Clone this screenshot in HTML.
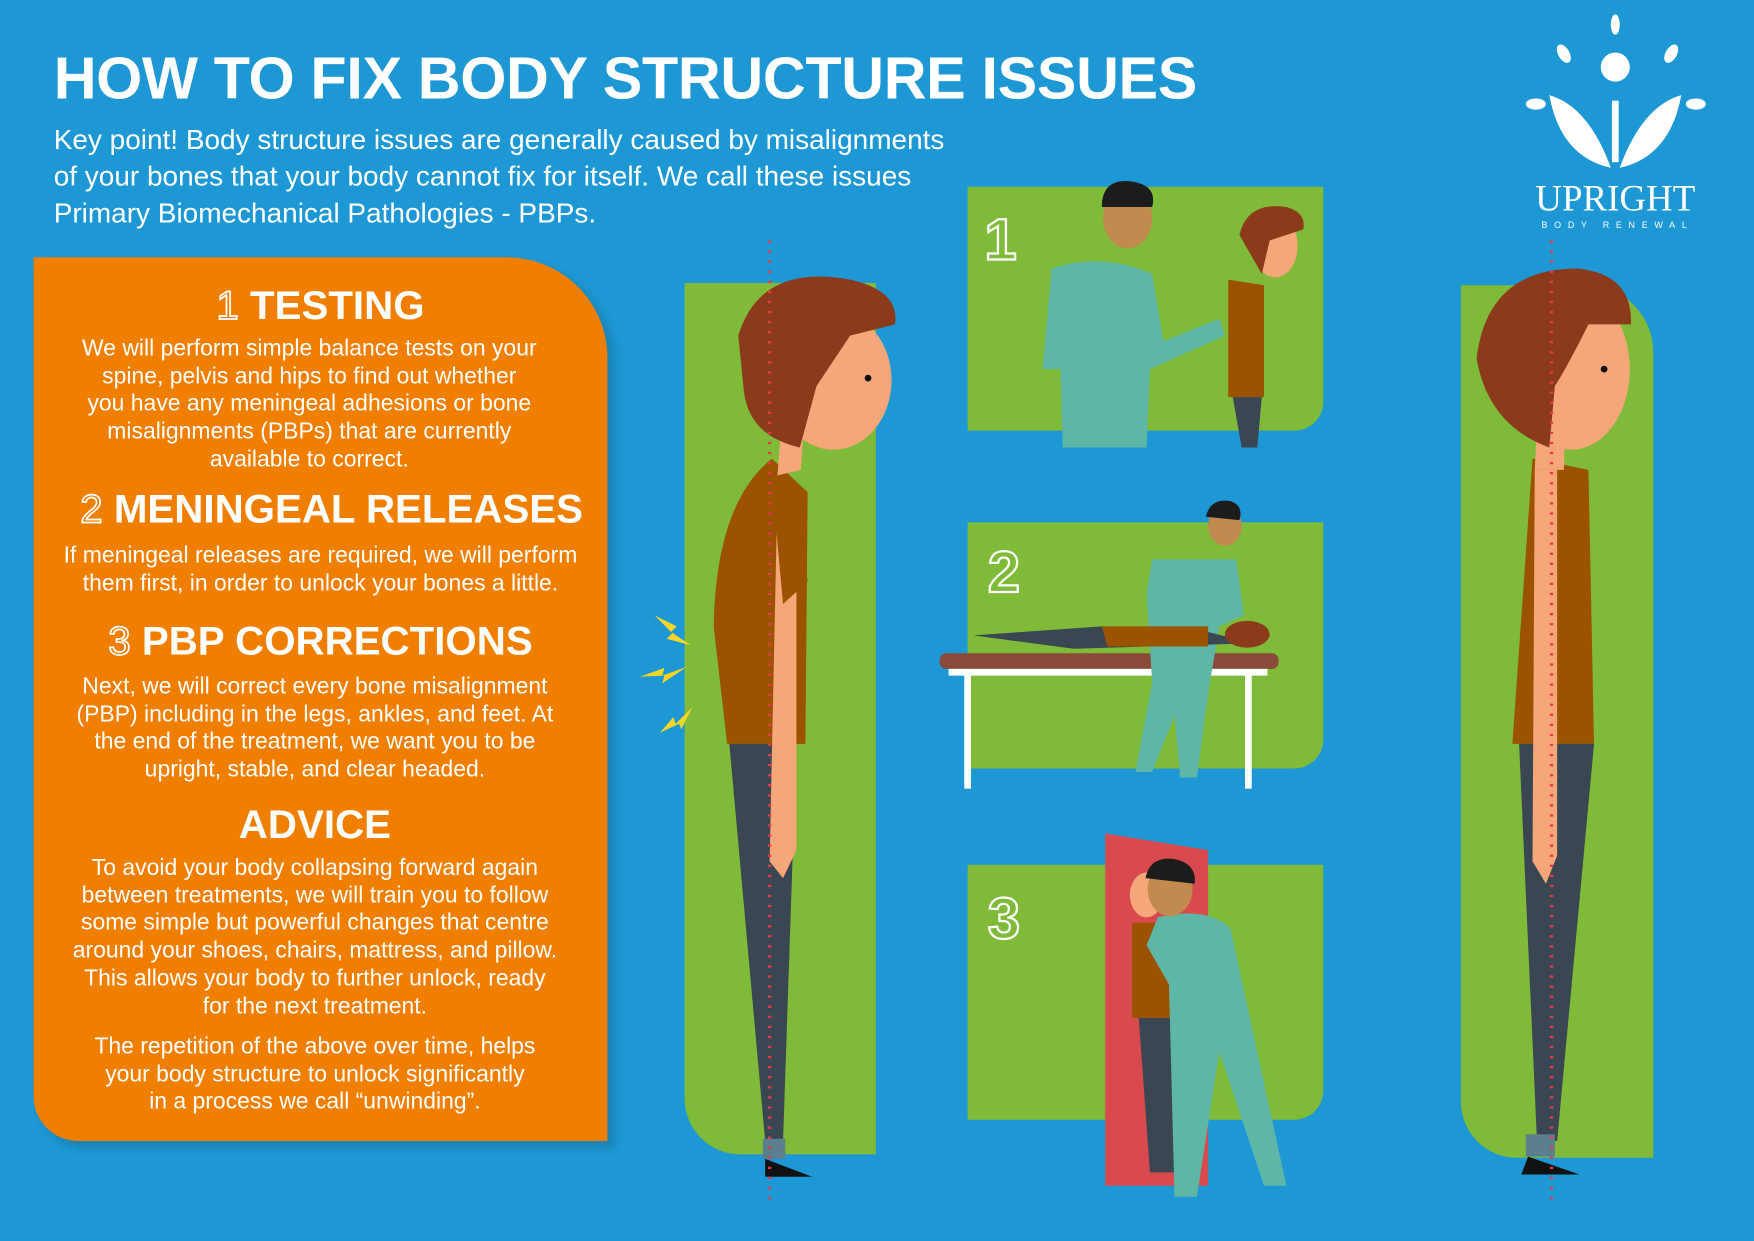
<!DOCTYPE html>
<html><head><meta charset="utf-8"><style>
html,body{margin:0;padding:0;width:1754px;height:1240px;overflow:hidden;background:#1d98d4}
#w{position:absolute;left:0;top:0;width:1568px;height:1109px;transform:scale(1.11862);transform-origin:0 0;background:#1d98d4;font-family:"Liberation Sans",sans-serif;color:#fff}
.a{position:absolute}
h1{position:absolute;left:48px;top:40px;margin:0;font-size:53px;font-weight:bold;letter-spacing:-0.3px;white-space:nowrap}
.kp{left:48px;top:109px;font-size:25px;line-height:33px;width:900px;white-space:nowrap}
.or{left:30px;top:230px;width:513px;height:790px;background:#f07f00;border-radius:0 90px 0 40px;box-shadow:6px 6px 8px rgba(0,0,0,.15)}
.or .h{position:absolute;left:0;width:513px;text-align:center;font-weight:bold;font-size:36px}
.or .p{position:absolute;left:0;width:513px;text-align:center;font-size:20.5px;line-height:24.7px;white-space:nowrap}
.g{background:#7fba38;position:absolute}
.num{position:absolute;font-size:52px;color:transparent;-webkit-text-stroke:2px #fff;font-weight:bold}
.hn{font-weight:normal;color:transparent;-webkit-text-stroke:1.5px #fff}
</style></head><body><div id="w">
<h1>HOW TO FIX BODY STRUCTURE ISSUES</h1>
<div class="a kp">Key point! Body structure issues are generally caused by misalignments<br>of your bones that your body cannot fix for itself. We call these issues<br>Primary Biomechanical Pathologies - PBPs.</div>

<div class="a or">
<div class="h" style="top:22px"><span class="hn">1</span> TESTING</div>
<div class="p" style="top:70px;left:-10px">We will perform simple balance tests on your<br>spine, pelvis and hips to find out whether<br>you have any meningeal adhesions or bone<br>misalignments (PBPs) that are currently<br>available to correct.</div>
<div class="h" style="top:204px;left:10px"><span class="hn">2</span> MENINGEAL RELEASES</div>
<div class="p" style="top:255px">If meningeal releases are required, we will perform<br>them first, in order to unlock your bones a little.</div>
<div class="h" style="top:322px;left:0"><span class="hn">3</span> PBP CORRECTIONS</div>
<div class="p" style="top:372px;left:-5px">Next, we will correct every bone misalignment<br>(PBP) including in the legs, ankles, and feet. At<br>the end of the treatment, we want you to be<br>upright, stable, and clear headed.</div>
<div class="h" style="top:486px;left:-5px">ADVICE</div>
<div class="p" style="top:534px;left:-5px">To avoid your body collapsing forward again<br>between treatments, we will train you to follow<br>some simple but powerful changes that centre<br>around your shoes, chairs, mattress, and pillow.<br>This allows your body to further unlock, ready<br>for the next treatment.</div>
<div class="p" style="top:694px;left:-5px">The repetition of the above over time, helps<br>your body structure to unlock significantly<br>in a process we call “unwinding”.</div>
</div>

<div class="g" style="left:612px;top:253px;width:171px;height:779px;border-radius:0 0 0 50px"></div>
<div class="g" style="left:865px;top:167px;width:318px;height:218px;border-radius:0 0 26px 0"></div>
<div class="g" style="left:865px;top:467px;width:318px;height:220px;border-radius:0 0 26px 0"></div>
<div class="g" style="left:865px;top:773px;width:318px;height:228px;border-radius:0 0 26px 0"></div>
<div class="g" style="left:1306px;top:255px;width:172px;height:780px;border-radius:0 60px 0 50px"></div>
<div class="num" style="left:880px;top:185px">1</div>
<div class="num" style="left:883px;top:482px">2</div>
<div class="num" style="left:883px;top:792px">3</div>

<svg class="a" style="left:0;top:0" width="1568" height="1109">
<path d="M690 410 Q640 450 638 560 L650 665 L720 665 L722 440 Z" fill="#9b5300"/>
<path d="M652 665 L712 665 L700 1020 L684 1020 Z" fill="#3a4752"/>
<path d="M682 1018 h20 v18 h-20z" fill="#5b7f8f"/>
<path d="M684 1036 L726 1052 L684 1052 Z" fill="#111"/>
<path d="M695 440 L712 440 L712 760 L700 785 L688 770 Z" fill="#f5a77a"/>
<path d="M690 430 L712 440 L722 520 L700 540 Z" fill="#9b5300"/>
<path d="M700 360 L720 360 L716 420 L695 425 Z" fill="#f5a77a"/>
<ellipse cx="745" cy="340" rx="52" ry="62" fill="#f5a77a"/>
<path d="M660 300 Q680 235 760 250 Q805 260 800 290 L760 300 Q740 330 730 345 L715 400 Q670 390 665 350 Z" fill="#8b3a1c"/>
<circle cx="776" cy="338" r="3" fill="#111"/>
<path d="M585 550 l20 10 -5 5 18 12 -22 -6 5 -5z" fill="#f4d629"/>
<path d="M572 605 l22 -8 -2 7 22 -8 -22 15 2 -7z" fill="#f4d629"/>
<path d="M590 655 l12 -14 2 6 15 -15 -10 20 -2 -5z" fill="#f4d629"/>
<path d="M1370 410 L1420 420 L1425 665 L1352 665 Z" fill="#9b5300"/>
<path d="M1358 665 L1425 665 L1392 1020 L1374 1020 Z" fill="#3a4752"/>
<path d="M1364 1014 h26 v20 h-26z" fill="#5b7f8f"/>
<path d="M1366 1034 L1412 1050 L1360 1050 Z" fill="#111"/>
<path d="M1372 420 L1392 420 L1392 765 L1382 790 L1370 770 Z" fill="#f5a77a"/>
<path d="M1375 360 L1400 360 L1398 420 L1372 420 Z" fill="#f5a77a"/>
<ellipse cx="1405" cy="330" rx="52" ry="72" fill="#f5a77a"/>
<path d="M1320 320 Q1330 240 1410 240 Q1460 245 1458 290 L1420 290 Q1400 330 1390 345 L1385 400 Q1330 380 1320 320 Z" fill="#8b3a1c"/>
<circle cx="1434" cy="330" r="3" fill="#111"/>
<line x1="688" y1="215" x2="688" y2="1072" stroke="#e8394a" stroke-width="3" stroke-dasharray="2 7"/>
<line x1="1387" y1="215" x2="1387" y2="1072" stroke="#e8394a" stroke-width="3" stroke-dasharray="2 7"/>
<path d="M940 240 Q985 225 1030 245 L1040 305 L1090 285 L1095 300 L1028 330 L1025 400 L950 400 L948 330 L932 330 Z" fill="#5eb6a6"/>
<ellipse cx="1008" cy="195" rx="22" ry="27" fill="#c18a4e"/>
<path d="M985 185 Q985 160 1010 162 Q1035 165 1030 185 Z" fill="#1c1c1c"/>
<path d="M1098 250 L1130 255 L1130 355 L1098 355 Z" fill="#9b5300"/>
<path d="M1102 355 L1128 355 L1124 400 L1110 400 Z" fill="#3a4752"/>
<ellipse cx="1140" cy="220" rx="20" ry="28" fill="#f5a77a"/>
<path d="M1108 210 Q1115 180 1150 185 Q1168 190 1165 205 L1135 215 L1128 245 Z" fill="#8b3a1c"/>
<rect x="840" y="584" width="303" height="14" rx="6" fill="#8a4a3a"/>
<path d="M848 598 h285 v6 h-285z" fill="#fff"/>
<rect x="862" y="600" width="6" height="105" fill="#fff"/><rect x="1113" y="600" width="6" height="105" fill="#fff"/>
<path d="M1030 500 L1105 500 L1112 550 L1090 560 L1080 620 L1070 695 L1055 695 L1050 640 L1030 690 L1015 690 L1030 610 L1025 530 Z" fill="#5eb6a6"/>
<ellipse cx="1095" cy="470" rx="15" ry="18" fill="#c18a4e"/>
<path d="M1078 462 Q1082 445 1100 448 Q1112 452 1108 465 Z" fill="#1c1c1c"/>
<path d="M870 568 L985 560 L1080 565 L1120 575 L960 580 Z" fill="#3a4752"/>
<path d="M985 560 L1080 560 L1080 578 L990 578 Z" fill="#9b5300"/>
<ellipse cx="1115" cy="567" rx="20" ry="12" fill="#8b3a1c"/>
<path d="M988 745 L1080 760 L1080 1060 L988 1060 Z" fill="#d94a4e"/>
<path d="M1012 825 L1058 825 L1058 910 L1012 910 Z" fill="#9b5300"/>
<path d="M1018 910 L1056 910 L1050 1048 L1028 1048 Z" fill="#3a4752"/>
<ellipse cx="1025" cy="800" rx="15" ry="20" fill="#f5a77a"/>
<path d="M1035 820 Q1080 810 1100 830 L1150 1060 L1130 1060 L1090 940 L1070 1070 L1050 1070 L1045 880 L1025 845 Z" fill="#5eb6a6"/>
<ellipse cx="1046" cy="795" rx="20" ry="24" fill="#c18a4e"/>
<path d="M1024 785 Q1028 765 1050 768 Q1070 772 1068 790 Z" fill="#1c1c1c"/>
<g fill="#fff">
<ellipse cx="1444" cy="22" rx="4" ry="9"/>
<circle cx="1444" cy="60" r="13"/>
<ellipse cx="1398" cy="48" rx="5" ry="9" transform="rotate(-30 1398 48)"/>
<ellipse cx="1494" cy="48" rx="5" ry="9" transform="rotate(30 1494 48)"/>
<ellipse cx="1373" cy="93" rx="9" ry="5"/>
<ellipse cx="1516" cy="93" rx="9" ry="5"/>
<path d="M1440 150 Q1395 140 1385 85 Q1420 95 1440 150 Z"/>
<path d="M1448 150 Q1493 140 1503 85 Q1468 95 1448 150 Z"/>
<rect x="1441" y="90" width="6" height="55"/>
</g>
<text x="1444" y="188" font-family="Liberation Serif,serif" font-size="33" fill="#fff" text-anchor="middle">UPRIGHT</text>
<text x="1446" y="204" font-family="Liberation Sans,sans-serif" font-size="8" fill="#fff" text-anchor="middle" letter-spacing="6">BODY RENEWAL</text>
</svg>
</div></body></html>
